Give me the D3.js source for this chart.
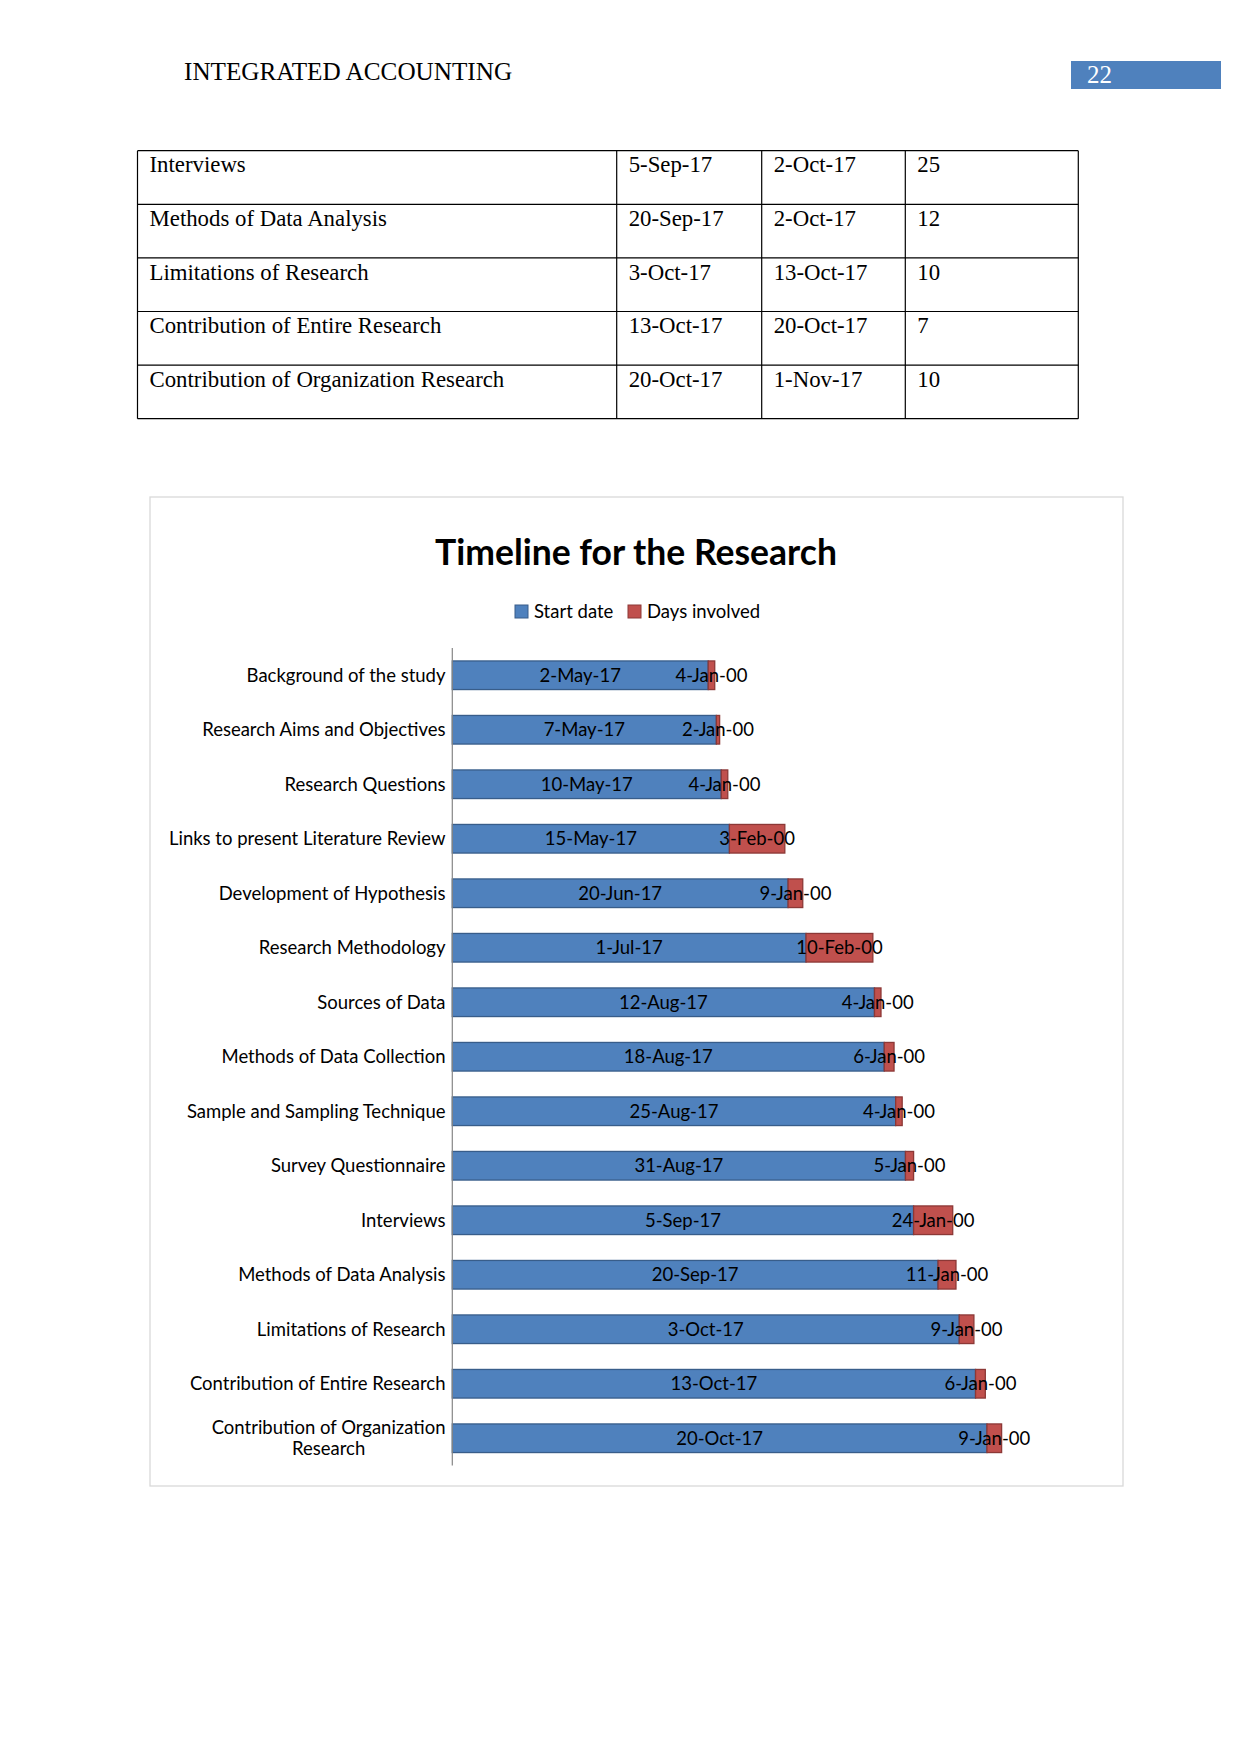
<!DOCTYPE html>
<html>
<head>
<meta charset="utf-8">
<script src="https://cdn.jsdelivr.net/npm/d3@7/dist/d3.min.js"></script>
<style>
  html, body { margin: 0; padding: 0; background: #fff; }
  svg { display: block; }
</style>
</head>
<body>
<svg id="page" width="1241" height="1754"></svg>
<script>
// ---------- DATA ----------
const headerTitle = "INTEGRATED ACCOUNTING";
const pageNumber = "22";

const tableTasks = ["Interviews", "Methods of Data Analysis", "Limitations of Research",
  "Contribution of Entire Research", "Contribution of Organization Research"];
const tableStart = ["5-Sep-17", "20-Sep-17", "3-Oct-17", "13-Oct-17", "20-Oct-17"];
const tableEnd = ["2-Oct-17", "2-Oct-17", "13-Oct-17", "20-Oct-17", "1-Nov-17"];
const tableDays = ["25", "12", "10", "7", "10"];

const chartTitle = "Timeline for the Research";
const seriesNames = ["Start date", "Days involved"];
const categories = [
  "Background of the study", "Research Aims and Objectives", "Research Questions",
  "Links to present Literature Review", "Development of Hypothesis", "Research Methodology",
  "Sources of Data", "Methods of Data Collection", "Sample and Sampling Technique",
  "Survey Questionnaire", "Interviews", "Methods of Data Analysis",
  "Limitations of Research", "Contribution of Entire Research", "Contribution of Organization Research"
];
const startDates = ["2017-05-02", "2017-05-07", "2017-05-10", "2017-05-15", "2017-06-20", "2017-07-01",
  "2017-08-12", "2017-08-18", "2017-08-25", "2017-08-31", "2017-09-05", "2017-09-20",
  "2017-10-03", "2017-10-13", "2017-10-20"];
const daysInvolved = [4, 2, 4, 34, 9, 41, 4, 6, 4, 5, 24, 11, 9, 6, 9];
// Excel axis bounds (serial 42700 .. 43100)
const axisMin = "2016-11-26";
const axisMax = "2017-12-31";

// ---------- HELPERS ----------
const parse = d3.utcParse("%Y-%m-%d");
const fmt = d3.utcFormat("%-d-%b-%y");
const DAY = 86400000;
// Excel formats a day count as a 1900 date (0-Jan-1900 + n)
const excelDayLabel = n => fmt(new Date(Date.UTC(1899, 11, 31) + n * DAY));

const svg = d3.select("#page");

// ---------- PAGE HEADER ----------
svg.append("text").attr("x", 184).attr("y", 80)
  .attr("font-family", "Liberation Serif").attr("font-size", 25.2).attr("fill", "#000")
  .text(headerTitle);
svg.append("rect").attr("x", 1071).attr("y", 61).attr("width", 150).attr("height", 28)
  .attr("fill", "#4f81bd");
svg.append("text").attr("x", 1087).attr("y", 83)
  .attr("font-family", "Liberation Serif").attr("font-size", 25).attr("fill", "#fff")
  .text(pageNumber);

// ---------- TABLE ----------
const colX = [137.5, 616.7, 761.7, 905.3, 1078.3];
const tableTop = 150.7, rowH = 53.6;
const tg = svg.append("g");
const rows = tableTasks.map((t, i) => [t, tableStart[i], tableEnd[i], tableDays[i]]);
rows.forEach((r, i) => {
  const y0 = tableTop + i * rowH;
  r.forEach((cell, j) => {
    tg.append("text").attr("x", colX[j] + 12).attr("y", y0 + 21.6)
      .attr("font-family", "Liberation Serif").attr("font-size", 22.8).attr("fill", "#000")
      .text(cell);
  });
});
for (let i = 0; i <= rows.length; i++) {
  tg.append("line").attr("x1", colX[0]).attr("x2", colX[4])
    .attr("y1", tableTop + i * rowH).attr("y2", tableTop + i * rowH)
    .attr("stroke", "#000").attr("stroke-width", 1.2);
}
colX.forEach(x => {
  tg.append("line").attr("x1", x).attr("x2", x)
    .attr("y1", tableTop).attr("y2", tableTop + rows.length * rowH)
    .attr("stroke", "#000").attr("stroke-width", 1.2);
});

// ---------- CHART ----------
const frame = { x: 150, y: 497, w: 973, h: 989 };
svg.append("rect").attr("x", frame.x).attr("y", frame.y).attr("width", frame.w).attr("height", frame.h)
  .attr("fill", "#fff").attr("stroke", "#d9d9d9").attr("stroke-width", 1.3);

const FONT = "Lato, 'Open Sans', sans-serif";

svg.append("text").attr("x", 636).attr("y", 564.5).attr("text-anchor", "middle")
  .attr("font-family", FONT).attr("font-weight", "bold").attr("font-size", 35.5)
  .attr("fill", "#000").text(chartTitle);

// legend
const colors = ["#4f81bd", "#c0504d"];
const strokes = ["#385d8a", "#8c3836"];
const legendX = [515, 628];
seriesNames.forEach((s, i) => {
  svg.append("rect").attr("x", legendX[i]).attr("y", 605).attr("width", 13).attr("height", 13)
    .attr("fill", colors[i]).attr("stroke", strokes[i]).attr("stroke-width", 1);
  svg.append("text").attr("x", legendX[i] + 19).attr("y", 611.5).attr("dy", "0.35em")
    .attr("font-family", FONT).attr("font-size", 18.5).attr("fill", "#000").text(s);
});

const plot = { left: 452.3, right: 1104.3, top: 648, bottom: 1465.5 };
const x = d3.scaleUtc().domain([parse(axisMin), parse(axisMax)]).range([plot.left, plot.right]);
const y = d3.scaleBand().domain(categories).range([plot.top, plot.bottom]).paddingInner(0.475).paddingOuter(0.2375);

const data = categories.map((c, i) => {
  const s = parse(startDates[i]);
  return { cat: c, start: s, end: new Date(+s + daysInvolved[i] * DAY), days: daysInvolved[i] };
});

const bars = svg.append("g");
bars.selectAll("rect.start").data(data).join("rect").attr("class", "start")
  .attr("x", x(parse(axisMin))).attr("y", d => y(d.cat))
  .attr("width", d => x(d.start) - x(parse(axisMin))).attr("height", y.bandwidth())
  .attr("fill", colors[0]).attr("stroke", strokes[0]).attr("stroke-width", 1.3);
bars.selectAll("rect.days").data(data).join("rect").attr("class", "days")
  .attr("x", d => x(d.start)).attr("y", d => y(d.cat))
  .attr("width", d => x(d.end) - x(d.start)).attr("height", y.bandwidth())
  .attr("fill", colors[1]).attr("stroke", strokes[1]).attr("stroke-width", 1.3);

// data labels
const lab = svg.append("g").attr("font-family", FONT).attr("font-size", 18.5).attr("fill", "#000")
  .attr("text-anchor", "middle");
lab.selectAll("text.s").data(data).join("text").attr("class", "s")
  .attr("x", d => (x(parse(axisMin)) + x(d.start)) / 2)
  .attr("y", d => y(d.cat) + y.bandwidth() / 2).attr("dy", "0.35em")
  .text(d => fmt(d.start));
lab.selectAll("text.d").data(data).join("text").attr("class", "d")
  .attr("x", d => (x(d.start) + x(d.end)) / 2)
  .attr("y", d => y(d.cat) + y.bandwidth() / 2).attr("dy", "0.35em")
  .text(d => excelDayLabel(d.days));

// category axis
const yAxis = svg.append("g").attr("transform", `translate(${plot.left},0)`)
  .call(d3.axisLeft(y).tickSize(0).tickPadding(0));
yAxis.select(".domain").attr("stroke", "#868686").attr("stroke-width", 1.2)
  .attr("d", `M0,${plot.top}V${plot.bottom}`);
yAxis.selectAll(".tick text").remove();

const labelRight = 445.5, maxW = 290;
const catG = svg.append("g").attr("font-family", FONT).attr("font-size", 18.5).attr("fill", "#000");
categories.forEach(c => {
  const cy = y(c) + y.bandwidth() / 2;
  // measure & wrap
  const t = catG.append("text").attr("text-anchor", "end").attr("x", labelRight).attr("y", cy).attr("dy", "0.35em").text(c);
  if (t.node().getComputedTextLength() > maxW) {
    const words = c.split(" ");
    let lines = [], cur = [];
    words.forEach(w => {
      t.text([...cur, w].join(" "));
      if (t.node().getComputedTextLength() > maxW && cur.length) { lines.push(cur.join(" ")); cur = [w]; }
      else cur.push(w);
    });
    lines.push(cur.join(" "));
    t.text(null);
    const widths = lines.map(l => { t.text(l); return t.node().getComputedTextLength(); });
    const bw = d3.max(widths);
    t.text(null).attr("text-anchor", "middle");
    const lh = 20.5;
    lines.forEach((l, k) => {
      t.append("tspan").attr("x", labelRight - bw / 2)
        .attr("y", cy + (k - (lines.length - 1) / 2) * lh).attr("dy", "0.35em").text(l);
    });
  }
});
</script>
</body>
</html>
